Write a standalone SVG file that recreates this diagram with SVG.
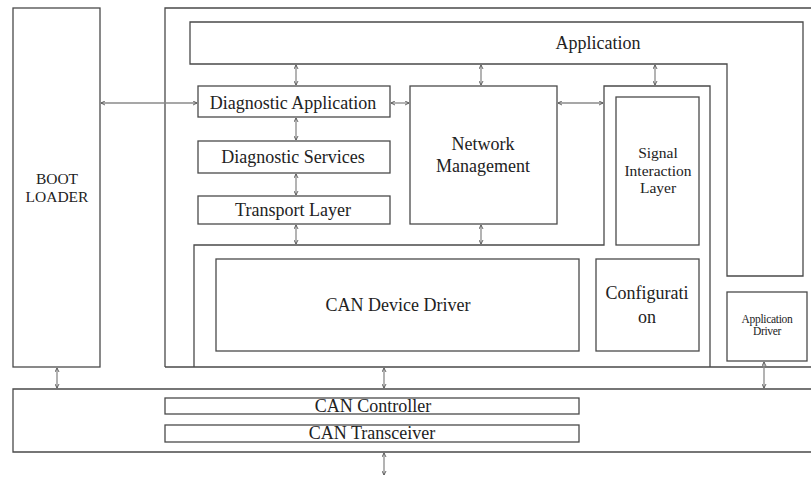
<svg xmlns="http://www.w3.org/2000/svg" width="811" height="477" viewBox="0 0 811 477">
  <style>
    .box { fill: none; stroke: #4a4a4a; stroke-width: 1.3; }
    .lbl { font-family: 'Liberation Serif', 'DejaVu Serif', serif; fill: #222; text-anchor: middle; font-size: 18px; }
    .sm { font-size: 15.5px; }
    .xs { font-size: 11.5px; letter-spacing: -0.3px; }
    .link { fill: none; stroke: #8a8a8a; stroke-width: 1.3; marker-start: url(#tip); marker-end: url(#tip); }
  </style>
  <defs>
    <marker id="tip" viewBox="0 0 10 10" refX="9" refY="5" markerWidth="5" markerHeight="5" orient="auto-start-reverse" markerUnits="userSpaceOnUse">
      <path d="M1,1 L9,5 L1,9" fill="none" stroke="#555" stroke-width="1.8"/>
    </marker>
  </defs>
  <rect width="811" height="477" fill="#fff"/>

  <g id="boot-loader">
    <rect class="box" x="13" y="8" width="87" height="359"/>
    <text class="lbl sm" x="57" y="184" font-family="Liberation Serif, serif">BOOT</text>
    <text class="lbl sm" x="57" y="202" font-family="Liberation Serif, serif">LOADER</text>
  </g>

  <g id="ecu-software">
    <path class="box" d="M165,367 L165,8 L815,8 M165,367 L815,367"/>
  </g>

  <g id="application">
    <path class="box" d="M190,22 L803,22 L803,276 L727,276 L727,64 L190,64 Z"/>
    <text class="lbl" x="598" y="49">Application</text>
  </g>

  <g id="diagnostic-application">
    <rect class="box" x="198" y="86" width="192" height="31"/>
    <text class="lbl" x="293" y="109">Diagnostic Application</text>
  </g>

  <g id="diagnostic-services">
    <rect class="box" x="198" y="141" width="192" height="32"/>
    <text class="lbl" x="293" y="163">Diagnostic Services</text>
  </g>

  <g id="transport-layer">
    <rect class="box" x="198" y="196" width="192" height="28"/>
    <text class="lbl" x="293" y="216">Transport Layer</text>
  </g>

  <g id="network-management">
    <rect class="box" x="410" y="86" width="147" height="138"/>
    <text class="lbl" x="483" y="150">Network</text>
    <text class="lbl" x="483" y="172">Management</text>
  </g>

  <g id="can-stack">
    <path class="box" d="M194,367 L194,245 L604,245 L604,86 L710,86 L710,367"/>
  </g>

  <g id="signal-interaction-layer">
    <rect class="box" x="616" y="97" width="83" height="148"/>
    <text class="lbl sm" x="658" y="158">Signal</text>
    <text class="lbl sm" x="658" y="176">Interaction</text>
    <text class="lbl sm" x="658" y="193">Layer</text>
  </g>

  <g id="can-device-driver">
    <rect class="box" x="216" y="259" width="363" height="92"/>
    <text class="lbl" x="398" y="311">CAN Device Driver</text>
  </g>

  <g id="configuration">
    <rect class="box" x="596" y="259" width="103" height="92"/>
    <text class="lbl" x="647" y="299">Configurati</text>
    <text class="lbl" x="647" y="323">on</text>
  </g>

  <g id="application-driver">
    <rect class="box" x="727" y="292" width="80" height="69"/>
    <text class="lbl xs" x="767" y="323">Application</text>
    <text class="lbl xs" x="767" y="335">Driver</text>
  </g>

  <g id="can-hardware">
    <path class="box" d="M815,389 L13,389 L13,452 L815,452"/>
  </g>

  <g id="can-controller">
    <rect class="box" x="165" y="398" width="414" height="16"/>
    <text class="lbl" x="373" y="412">CAN Controller</text>
  </g>

  <g id="can-transceiver">
    <rect class="box" x="165" y="425" width="414" height="17"/>
    <text class="lbl" x="372" y="439">CAN Transceiver</text>
  </g>

  <g id="connectors">
    <line class="link" x1="101" y1="103" x2="197" y2="103"/>
    <line class="link" x1="296" y1="65" x2="296" y2="85"/>
    <line class="link" x1="296" y1="118" x2="296" y2="140"/>
    <line class="link" x1="296" y1="174" x2="296" y2="195"/>
    <line class="link" x1="296" y1="225" x2="296" y2="244"/>
    <line class="link" x1="391" y1="103" x2="409" y2="103"/>
    <line class="link" x1="481" y1="65" x2="481" y2="85"/>
    <line class="link" x1="481" y1="225" x2="481" y2="244"/>
    <line class="link" x1="558" y1="103" x2="603" y2="103"/>
    <line class="link" x1="655" y1="65" x2="655" y2="85"/>
    <line class="link" x1="57" y1="368" x2="57" y2="388"/>
    <line class="link" x1="384" y1="368" x2="384" y2="388"/>
    <line class="link" x1="764" y1="362" x2="764" y2="388"/>
    <line class="link" x1="384" y1="453" x2="384" y2="475"/>
  </g>
</svg>
